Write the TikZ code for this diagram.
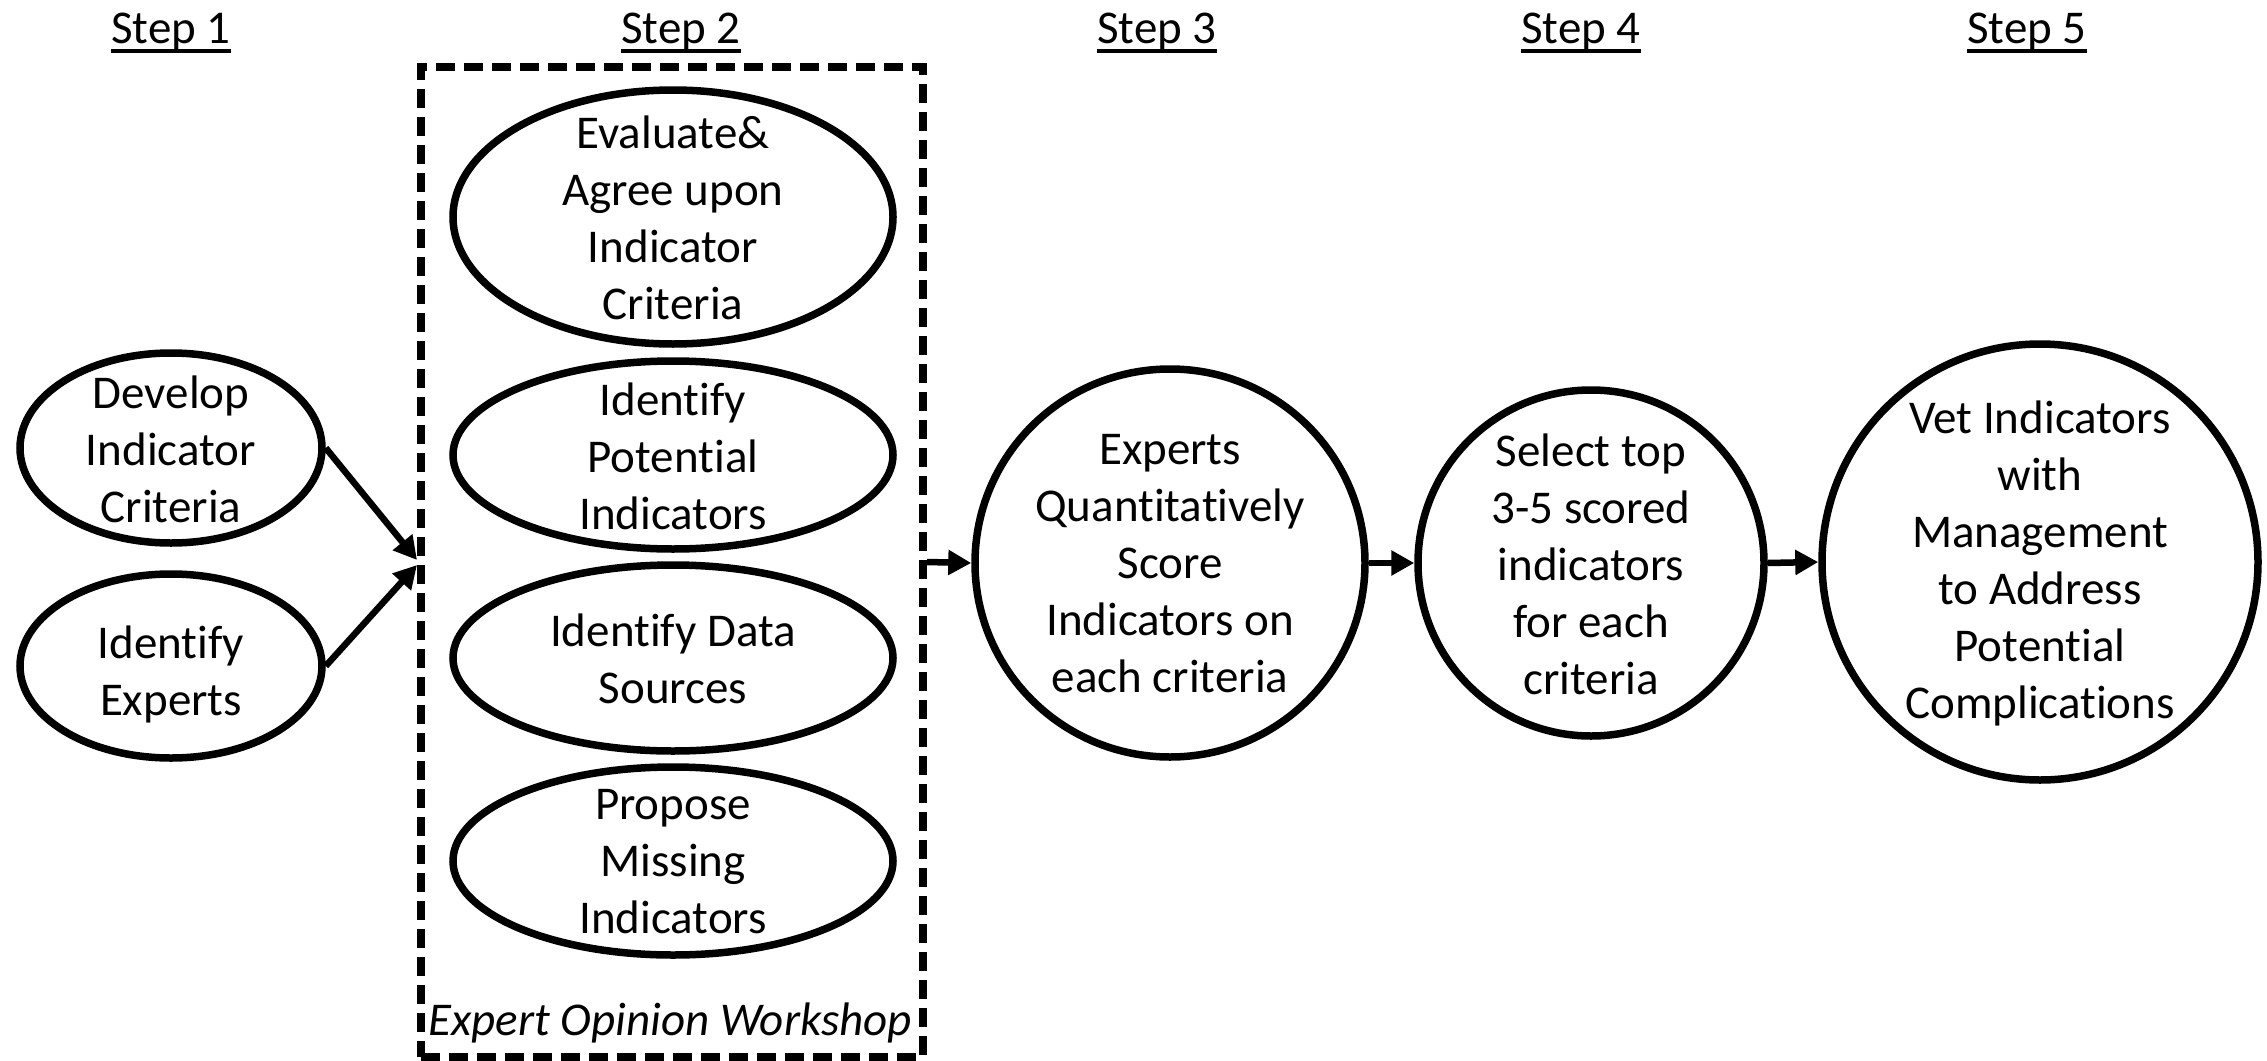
\documentclass[tikz,border=0pt]{standalone}
\usepackage{fontspec}
\setmainfont[Ligatures={NoCommon}]{Carlito}
\usetikzlibrary{arrows.meta,shapes.geometric}
\newcommand\stepul[1]{\setbox0\hbox{#1}\rlap{\rule[-9.5pt]{\wd0}{3.5pt}}\box0}
\begin{document}
\begin{tikzpicture}[x=1pt,y=-1pt,
  every node/.style={font=\fontsize{47}{57}\selectfont, inner sep=0pt},
  oval/.style={draw, ellipse, line width=7.5pt, inner sep=0pt},
  txt/.style={align=center, yshift=-1pt},
  arr/.style={line width=6.5pt, -{Triangle[length=23pt,width=24pt]}},
  wsbox/.style={draw, line width=8pt, dash pattern=on 19pt off 9pt, minimum width=502pt, minimum height=990pt},
  steplabel/.style={anchor=base}]
\fill[white] (0,0) rectangle (2267,1060);
\useasboundingbox (0,0) rectangle (2267,1060);

% step labels
\node[steplabel] (st1) at (171,43) {\stepul{Step 1}};
\node[steplabel] (st2) at (681,43) {\stepul{Step 2}};
\node[steplabel] (st3) at (1157,43) {\stepul{Step 3}};
\node[steplabel] (st4) at (1581,43) {\stepul{Step 4}};
\node[steplabel] (st5) at (2027,43) {\stepul{Step 5}};

% workshop box
\node[wsbox] (ws) at (672,562) {};
\node[anchor=base] (wsT) at (670,1035) {\itshape Expert Opinion Workshop};

% step 1
\node[oval, minimum width=302pt, minimum height=190pt] (dev) at (171,448) {};
\node[txt] (devT) at (dev) {Develop\\Indicator\\Criteria};
\node[oval, minimum width=302pt, minimum height=184pt] (idx) at (171,666) {};
\node[txt, yshift=-7pt] (idxT) at (idx) {Identify\\Experts};

% step 2
\node[oval, minimum width=440pt, minimum height=254pt] (eva) at (673,217) {};
\node[txt] (evaT) at (eva) {Evaluate\&\\Agree upon\\Indicator\\Criteria};
\node[oval, minimum width=440pt, minimum height=188pt] (pot) at (673,455) {};
\node[txt] (potT) at (pot) {Identify\\Potential\\Indicators};
\node[oval, minimum width=440pt, minimum height=186pt] (dat) at (673,658) {};
\node[txt] (datT) at (dat) {Identify Data\\Sources};
\node[oval, minimum width=440pt, minimum height=188pt] (mis) at (673,861) {};
\node[txt] (misT) at (mis) {Propose\\Missing\\Indicators};

% steps 3-5
\node[oval, minimum width=390pt, minimum height=388pt] (c3) at (1170,563) {};
\node[txt] (c3T) at (c3) {Experts\\Quantitatively\\Score\\Indicators on\\each criteria};
\node[oval, minimum width=346pt, minimum height=346pt] (c4) at (1591,563) {};
\node[txt] (c4T) at (c4) {Select top\\3-5 scored\\indicators\\for each\\criteria};
\node[oval, minimum width=436pt, minimum height=436pt] (c5) at (2040,562) {};
\node[txt] (c5T) at (c5) {Vet Indicators\\with\\Management\\to Address\\Potential\\Complications};

% connectors
\draw[arr] (dev.east) -- ([yshift=2pt]ws.west);
\draw[arr] (idx.east) -- ([yshift=-3pt]ws.west);
\draw[arr] (ws.east) -- (c3.west);
\draw[arr] (c3.east) -- (c4.west);
\draw[arr] (c4.east) -- (c5.west);
\end{tikzpicture}
\end{document}
